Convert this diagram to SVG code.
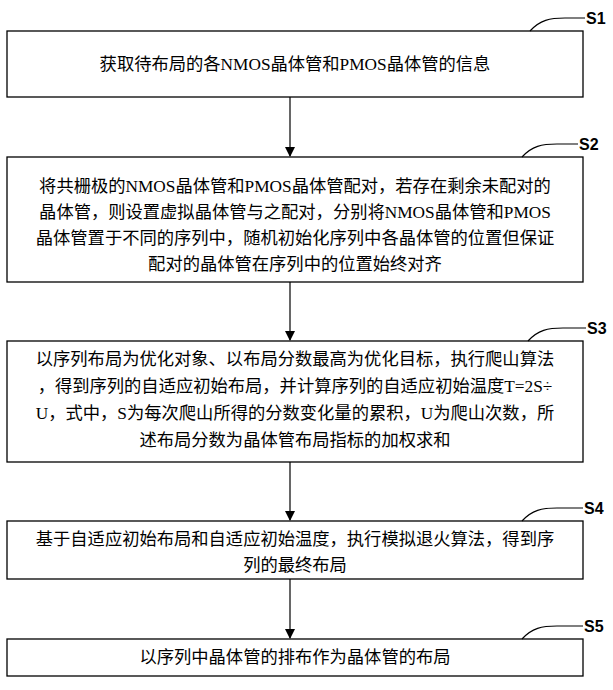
<svg xmlns="http://www.w3.org/2000/svg" width="613" height="690" viewBox="0 0 613 690">
<defs>
<marker id="ah" markerWidth="10" markerHeight="10" refX="9" refY="5" orient="auto" markerUnits="userSpaceOnUse"><path d="M0,0 L10,5 L0,10 Z" fill="#000"/></marker>
<style>
.box{fill:#fff;stroke:#000;stroke-width:1.3}
.t{font-family:"Liberation Serif","Noto Sans CJK SC",serif;font-size:17.3px;fill:#000;text-anchor:middle}
.lab{font-family:"Liberation Sans",sans-serif;font-size:16px;font-weight:bold;fill:#000}
.c{fill:none;stroke:#000;stroke-width:1.2}
</style>
</defs>
<rect width="613" height="690" fill="#fff"/>
<g id="S1"><rect class="box" x="7" y="31" width="576" height="66"/><text class="t" x="295" y="70">获取待布局的各NMOS晶体管和PMOS晶体管的信息</text></g>
<g id="S2"><rect class="box" x="7" y="157" width="576" height="125"/>
<text class="t" x="295" y="192">将共栅极的NMOS晶体管和PMOS晶体管配对，若存在剩余未配对的</text>
<text class="t" x="295" y="218">晶体管，则设置虚拟晶体管与之配对，分别将NMOS晶体管和PMOS</text>
<text class="t" x="295" y="244">晶体管置于不同的序列中，随机初始化序列中各晶体管的位置但保证</text>
<text class="t" x="295" y="270">配对的晶体管在序列中的位置始终对齐</text></g>
<g id="S3"><rect class="box" x="7" y="341" width="576" height="121"/>
<text class="t" x="295" y="365">以序列布局为优化对象、以布局分数最高为优化目标，执行爬山算法</text>
<text class="t" x="295" y="392">，得到序列的自适应初始布局，并计算序列的自适应初始温度T=2S÷</text>
<text class="t" x="295" y="419">U，式中，S为每次爬山所得的分数变化量的累积，U为爬山次数，所</text>
<text class="t" x="295" y="446">述布局分数为晶体管布局指标的加权求和</text></g>
<g id="S4"><rect class="box" x="7" y="521" width="576" height="58"/>
<text class="t" x="295" y="545">基于自适应初始布局和自适应初始温度，执行模拟退火算法，得到序</text>
<text class="t" x="295" y="571">列的最终布局</text></g>
<g id="S5"><rect class="box" x="7" y="639" width="576" height="37"/>
<text class="t" x="295" y="663">以序列中晶体管的排布作为晶体管的布局</text></g>
<g id="connectors">
<line class="c" x1="290" y1="97" x2="290" y2="156" marker-end="url(#ah)"/>
<line class="c" x1="290" y1="282" x2="290" y2="340" marker-end="url(#ah)"/>
<line class="c" x1="290" y1="462" x2="290" y2="520" marker-end="url(#ah)"/>
<line class="c" x1="290" y1="579" x2="290" y2="638" marker-end="url(#ah)"/>
<path class="c" d="M530,31 C540,20 550,18 565,18 L585,18"/>
<path class="c" d="M522,157 C532,146 542,144 557,144 L578,144"/>
<path class="c" d="M528,341 C538,330 548,328 563,328 L586,328"/>
<path class="c" d="M522,521 C532,510 542,508 557,508 L583,508"/>
<path class="c" d="M522,639 C532,628 542,626 557,626 L583,626"/>
</g>
<g id="labels">
<text class="lab" x="586" y="24">S1</text>
<text class="lab" x="579" y="150">S2</text>
<text class="lab" x="587" y="334">S3</text>
<text class="lab" x="584" y="514">S4</text>
<text class="lab" x="584" y="632">S5</text>
</g>
</svg>
